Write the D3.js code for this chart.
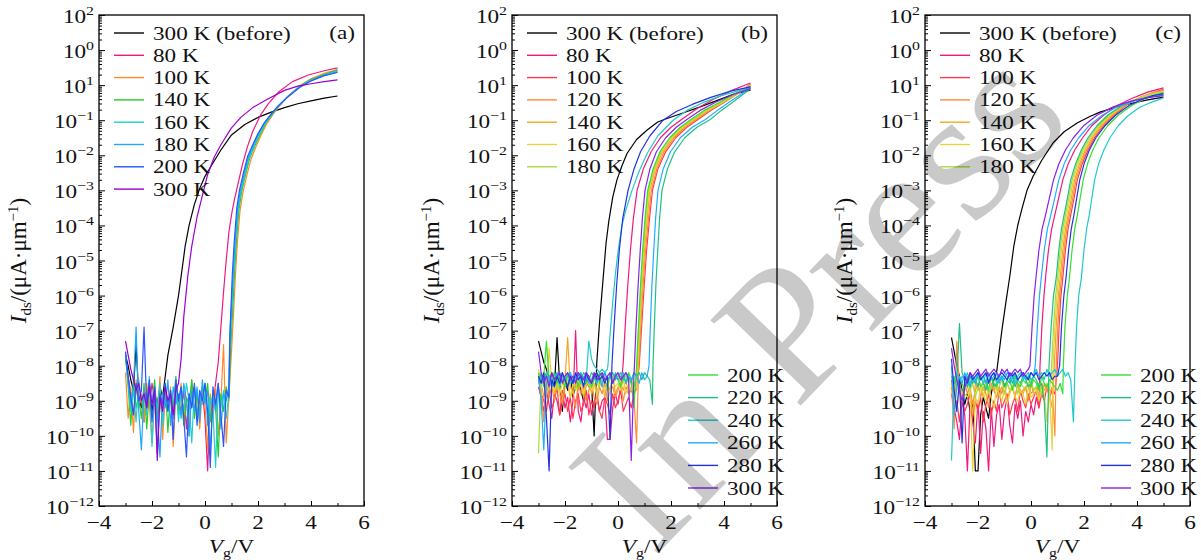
<!DOCTYPE html>
<html>
<head>
<meta charset="utf-8">
<script src="https://cdn.jsdelivr.net/npm/d3@7"></script>
<style>
  body { margin: 0; background: #fff; }
  svg text { font-family: "Liberation Serif", "Times New Roman", serif; }
</style>
</head>
<body>
<svg id="chart" width="1201" height="560"></svg>
<script>
// ---- data (current values stored as log10(I / μA·μm^-1)) ----
const tempsA = ["300 K (before)", "80 K", "100 K", "140 K", "160 K", "180 K", "200 K", "300 K"];
const tempsBC = ["300 K (before)", "80 K", "100 K", "120 K", "140 K", "160 K", "180 K",
  "200 K", "220 K", "240 K", "260 K", "280 K", "300 K"];
const panelLabels = ["(a)", "(b)", "(c)"];
const xTicks = [-4, -2, 0, 2, 4, 6];
const xMinor = [-3, -1, 1, 3, 5];
const xTickLabels = ["−4", "−2", "0", "2", "4", "6"];
const yTickExps = [2, 1, 0, -1, -2, -3, -4, -5, -6, -7, -8, -9, -10, -11, -12];
const yTickLabels = ["2", "0", "1", "−1", "−2", "−3", "−4", "−5", "−6", "−7", "−8", "−9", "−10", "−11", "−12"];

// Vg sweep of the off-state part starts at -3.0 V, 0.1 V per point
const vgStart = -3.0;
const vgStep = 0.1;

// panel (a): off-state noise, then the turn-on branch as [Vg, log10 I]
const noiseA = [
  [-7.7,-8.0,-8.4,-8.7,-7.4,-8.9,-9.2,-8.7,-9.0,-8.5, -9.3,-8.8,-9.1,-8.6,-8.9,-8.3],
  [-7.8,-8.3,-8.8,-9.4,-8.6,-9.1,-8.9,-9.6,-8.7,-9.2, -8.5,-9.0,-9.4,-8.8,-9.7,-8.6,-9.1,-8.9,-9.5,-8.4,
   -9.0,-9.3,-8.7,-9.8,-8.8,-9.2,-8.6,-9.4,-9.0,-8.7, -9.5,-11.0,-8.9,-9.3,-8.5],
  [-8.2,-9.5,-8.6,-9.9,-8.4,-9.2,-8.8,-9.6,-8.5,-9.1, -10.2,-8.7,-9.4,-8.3,-10.1,-8.9,-9.3,-8.6,-10.3,-8.8,
   -9.2,-8.5,-9.7,-8.9,-10.0,-8.4,-9.3,-8.7,-9.8,-8.6, -9.1,-10.4,-8.8,-9.5,-8.6,-10.0,-9.0,-7.4,-10.2,-8.9],
  [-7.7,-8.6,-9.7,-8.4,-9.2,-8.9,-9.5,-8.5,-9.8,-8.7, -9.1,-8.4,-9.6,-8.8,-9.3,-8.5,-9.9,-8.7,-9.2,-8.3,
   -9.4,-8.6,-9.7,-8.9,-9.1,-8.4,-9.5,-8.8,-9.3,-8.6, -9.0,-8.5,-9.6,-8.7,-9.2,-10.6,-8.8,-9.3,-8.6,-9.0],
  [-7.6,-8.5,-9.3,-8.7,-9.6,-8.4,-9.0,-8.8,-9.4,-8.3, -10.3,-8.9,-9.2,-8.5,-9.7,-8.6,-9.1,-8.8,-9.5,-8.4,
   -9.6,-8.7,-9.3,-8.5,-9.0,-10.2,-8.6,-9.4,-8.8,-9.1, -8.5,-9.7,-8.9,-9.3,-10.9,-8.6,-9.2,-8.7,-9.5,-8.8],
  [-7.7,-8.4,-9.1,-8.6,-6.9,-9.3,-10.4,-8.7,-9.2,-8.5, -9.0,-8.6,-9.4,-10.6,-8.8,-9.2,-8.4,-9.7,-8.6,-9.1,
   -8.8,-9.5,-8.5,-9.0,-10.0,-8.7,-9.3,-8.6,-9.6,-8.4, -9.1,-8.7,-10.5,-8.9,-9.3,-8.5,-9.8,-8.8,-9.0,-8.6],
  [-7.6,-8.3,-8.9,-9.4,-8.5,-9.0,-8.7,-6.9,-9.2,-8.4, -9.6,-8.6,-10.5,-8.8,-9.1,-8.5,-9.3,-8.7,-10.1,-8.4,
   -9.0,-8.6,-9.5,-10.6,-8.8,-9.2,-8.5,-9.7,-8.7,-9.0, -8.5,-9.3,-10.9,-8.6,-9.1,-8.5,-9.4,-10.3,-8.7,-8.9],
  [-7.3,-7.7,-8.1,-8.4,-8.7,-8.5,-9.0,-8.8,-9.2,-8.6, -9.1,-8.7,-10.7,-8.9,-9.3,-8.6,-9.0,-8.8,-9.4,-8.7, -8.5]
];
const riseA = [
  [[-1.4,-7.7],[-1.2,-6.9],[-1.0,-6.0],[-0.9,-5.45],[-0.75,-4.6],[-0.6,-4.0],[-0.4,-3.4],[-0.2,-2.95],[0.0,-2.6],[0.3,-2.22],[0.6,-1.85],[1.0,-1.42],[1.5,-1.12],[2.0,-0.92],[2.5,-0.77],[3.0,-0.64],[3.5,-0.53],[4.0,-0.45],[4.5,-0.37],[5.0,-0.31]],
  [[0.5,-7.9],[0.6,-6.9],[0.7,-5.9],[0.8,-5.0],[0.9,-4.2],[1.0,-3.7],[1.1,-3.3],[1.25,-2.8],[1.4,-2.3],[1.6,-1.76],[1.8,-1.32],[2.1,-0.85],[2.4,-0.52],[2.8,-0.18],[3.3,0.1],[3.9,0.29],[4.5,0.41],[5.0,0.49]],
  [[1.0,-7.6],[1.07,-6.6],[1.15,-5.4],[1.22,-4.5],[1.32,-3.6],[1.42,-3.1],[1.57,-2.6],[1.72,-2.15],[1.9,-1.8],[2.1,-1.45],[2.33,-1.1],[2.58,-0.82],[2.83,-0.58],[3.15,-0.3],[3.6,0.0],[4.0,0.18],[4.5,0.34],[5.0,0.45]],
  [[0.96,-7.6],[1.03,-6.6],[1.11,-5.4],[1.18,-4.5],[1.28,-3.55],[1.38,-3.05],[1.53,-2.55],[1.68,-2.1],[1.87,-1.75],[2.07,-1.42],[2.3,-1.08],[2.55,-0.82],[2.8,-0.58],[3.13,-0.32],[3.6,-0.02],[4.0,0.16],[4.5,0.31],[5.0,0.43]],
  [[0.93,-7.6],[1.0,-6.6],[1.08,-5.4],[1.15,-4.5],[1.25,-3.55],[1.35,-3.05],[1.5,-2.55],[1.65,-2.1],[1.84,-1.74],[2.04,-1.41],[2.28,-1.07],[2.53,-0.82],[2.78,-0.59],[3.12,-0.33],[3.6,-0.03],[4.0,0.14],[4.5,0.29],[5.0,0.40]],
  [[0.93,-7.2],[0.98,-6.6],[1.06,-5.4],[1.13,-4.5],[1.23,-3.52],[1.33,-3.02],[1.48,-2.52],[1.63,-2.07],[1.82,-1.72],[2.02,-1.39],[2.26,-1.06],[2.51,-0.82],[2.76,-0.6],[3.11,-0.34],[3.6,-0.04],[4.0,0.13],[4.5,0.28],[5.0,0.38]],
  [[0.95,-6.9],[1.03,-5.4],[1.1,-4.5],[1.2,-3.5],[1.3,-3.0],[1.45,-2.5],[1.6,-2.05],[1.8,-1.7],[2.0,-1.38],[2.25,-1.06],[2.5,-0.82],[2.75,-0.6],[3.1,-0.35],[3.6,-0.05],[4.0,0.12],[4.5,0.27],[5.0,0.36]],
  [[-0.9,-7.8],[-0.8,-6.6],[-0.65,-5.45],[-0.5,-4.6],[-0.3,-3.76],[-0.1,-3.15],[0.1,-2.55],[0.35,-2.05],[0.6,-1.7],[1.0,-1.22],[1.35,-0.92],[1.8,-0.64],[2.35,-0.4],[3.0,-0.15],[3.5,-0.03],[4.0,0.04],[4.5,0.1],[5.0,0.15]]
];

// panel (b)
const noiseB = [
  [-7.3,-7.6,-7.9,-8.1,-8.4,-8.2,-8.6,-7.2,-8.5,-9.3, -8.4,-8.7,-8.3,-8.9,-8.5,-8.2,-8.7,-9.0,-8.4,-8.6, -8.5,-10.0],
  [-8.6,-8.9,-9.3,-8.7,-9.1,-9.5,-8.8,-9.0,-9.4,-8.7, -9.2,-8.9,-9.6,-9.0,-7.0,-9.3,-9.6,-8.9,-9.2,-8.8,
   -9.4,-9.0,-8.8,-9.3,-9.0,-8.9,-10.1,-10.1,-9.2,-8.8, -9.1,-8.6],
  [-8.4,-8.8,-9.0,-9.3,-8.7,-9.2,-9.0,-8.6,-9.4,-9.1, -8.8,-9.3,-8.9,-9.5,-9.0,-8.8,-9.3,-9.1,-8.7,-9.4,
   -9.0,-9.2,-8.8,-9.3,-9.5,-8.9,-9.1,-9.4,-8.8,-9.2, -9.0,-8.7,-9.3,-9.1,-8.9,-9.2,-8.8,-8.6],
  [-8.3,-8.7,-9.6,-8.5,-8.9,-8.6,-9.0,-8.4,-8.8,-9.1, -8.6,-8.5,-8.9,-8.7,-9.2,-8.5,-8.8,-8.6,-9.0,-8.7,
   -8.5,-8.9,-9.1,-8.6,-8.8,-8.5,-9.0,-8.7,-8.6,-8.9, -8.7,-8.5,-9.0,-8.6,-8.8,-8.7,-8.9,-10.2],
  [-8.2,-8.5,-8.9,-8.4,-8.7,-8.3,-8.8,-8.5,-8.6,-8.9, -8.4,-7.2,-8.6,-8.8,-8.5,-8.7,-8.3,-8.9,-8.6,-8.4,
   -8.8,-8.5,-8.7,-8.6,-8.4,-8.9,-8.5,-8.7,-8.3,-8.8, -8.6,-8.5,-8.7,-8.4,-8.8,-8.6,-8.5,-8.7],
  [-8.1,-8.6,-8.3,-8.9,-7.5,-8.5,-8.7,-8.4,-8.8,-8.5, -8.6,-8.3,-8.9,-8.5,-8.7,-8.4,-8.6,-8.8,-8.5,-8.3,
   -8.7,-8.5,-8.9,-8.4,-8.6,-8.7,-8.5,-8.8,-8.4,-8.6, -8.5,-8.7,-8.4,-8.8,-8.6,-8.5,-8.7,-8.6],
  [-10.5,-8.4,-8.2,-8.6,-8.3,-8.5,-8.2,-8.7,-8.4,-8.3, -8.6,-8.4,-8.2,-8.5,-8.7,-8.3,-8.5,-8.4,-8.2,-8.6,
   -8.4,-8.3,-8.5,-8.6,-8.2,-8.4,-8.7,-8.3,-8.5,-8.4, -8.2,-8.6,-8.4,-8.3,-8.5,-8.4,-8.6,-8.3],
  [-8.2,-8.5,-8.3,-7.3,-8.4,-8.6,-8.2,-8.5,-8.3,-8.4, -8.6,-8.2,-8.4,-8.5,-8.3,-8.6,-8.2,-8.4,-8.5,-8.3,
   -8.6,-8.4,-8.2,-8.5,-8.3,-8.4,-8.6,-8.2,-8.5,-8.3, -8.4,-8.6,-8.3,-8.5,-8.2,-8.4,-9.2],
  [-8.5,-8.2,-8.4,-8.2,-8.3,-8.5,-8.2,-8.4,-8.3,-8.2, -8.4,-8.3,-8.2,-8.5,-8.3,-8.2,-8.4,-8.2,-8.3,-8.4,
   -8.2,-8.3,-8.5,-8.2,-8.3,-8.2,-8.4,-8.3,-8.2,-8.4, -8.3,-8.2,-8.4,-8.2,-8.3,-8.5,-8.2,-8.3,-8.2,-8.4,
   -8.2,-8.3,-8.4,-9.1],
  [-8.4,-8.3,-8.6,-8.2,-8.5,-8.3,-8.4,-8.2,-8.6,-8.3, -8.4,-8.2,-8.5,-8.3,-8.4,-8.2,-8.5,-8.3,-8.4,-7.3,
   -7.8,-8.0,-8.1,-8.2,-8.1,-8.2,-8.1],
  [-8.3,-9.0,-10.4,-8.5,-8.3,-8.6,-8.4,-8.2,-8.5,-8.3, -8.4,-8.6,-8.2,-8.5,-8.3,-8.4,-8.2,-8.6,-8.3,-8.5,
   -8.4,-8.2,-8.5,-8.3,-8.6,-8.2,-8.4,-8.3,-8.5,-8.2, -8.4,-8.3,-8.2,-8.5,-8.3,-8.4,-8.2,-8.3,-8.5,-8.2,
   -8.4,-8.3],
  [-8.3,-8.5,-8.2,-9.5,-11.0,-8.4,-8.6,-8.3,-8.5,-8.2, -8.4,-8.6,-8.3,-8.5,-8.2,-8.4,-8.3,-8.6,-8.2,-8.4,
   -8.5,-8.3,-8.2,-8.4,-8.3,-8.5,-8.3,-10.1],
  [-7.6,-8.2,-8.5,-8.3,-8.6,-8.2,-8.4,-8.3,-8.2,-8.5, -8.3,-8.2,-8.4,-8.3,-8.5,-8.2,-8.3,-8.4,-8.2,-8.3,
   -8.5,-8.2,-8.4,-8.3,-8.2,-8.4,-8.3,-8.2,-8.5,-8.3, -8.2,-8.4,-8.3,-8.2,-8.4,-10.7,-8.3]
];
const riseB = [
  [[-0.8,-7.9],[-0.7,-6.8],[-0.56,-5.5],[-0.45,-4.5],[-0.35,-3.9],[-0.2,-3.2],[-0.04,-2.7],[0.15,-2.3],[0.34,-1.95],[0.7,-1.55],[1.1,-1.28],[1.5,-1.05],[1.85,-0.95],[2.5,-0.78],[3.1,-0.62],[3.8,-0.42],[4.4,-0.25],[5.0,-0.14]],
  [[0.19,-8.0],[0.27,-6.9],[0.37,-5.7],[0.47,-4.7],[0.58,-3.8],[0.72,-3.0],[0.95,-2.4],[1.25,-1.9],[1.6,-1.5],[2.0,-1.2],[2.45,-0.95],[3.0,-0.66],[3.6,-0.4],[4.3,-0.15],[5.0,0.06]],
  [[0.8,-8.0],[0.89,-6.9],[0.99,-5.7],[1.08,-4.7],[1.19,-3.8],[1.3,-3.0],[1.5,-2.4],[1.8,-1.9],[2.18,-1.5],[2.6,-1.2],[3.02,-0.98],[3.5,-0.72],[4.05,-0.47],[4.55,-0.22],[5.0,0.03]],
  [[0.78,-8.0],[0.86,-6.9],[0.95,-5.7],[1.04,-4.7],[1.15,-3.8],[1.26,-3.0],[1.46,-2.4],[1.74,-1.9],[2.12,-1.5],[2.53,-1.2],[2.96,-0.98],[3.45,-0.72],[4.0,-0.48],[4.5,-0.24],[5.0,0.0]],
  [[0.76,-8.0],[0.83,-6.9],[0.91,-5.7],[1.0,-4.7],[1.1,-3.8],[1.2,-3.0],[1.4,-2.4],[1.68,-1.9],[2.06,-1.5],[2.47,-1.2],[2.9,-0.98],[3.4,-0.72],[3.95,-0.5],[4.5,-0.26],[5.0,-0.02]],
  [[0.74,-8.0],[0.81,-6.9],[0.89,-5.7],[0.97,-4.7],[1.07,-3.8],[1.17,-3.0],[1.37,-2.4],[1.64,-1.9],[2.02,-1.5],[2.43,-1.2],[2.85,-0.98],[3.35,-0.72],[3.9,-0.5],[4.45,-0.24],[5.0,0.0]],
  [[0.72,-8.0],[0.79,-6.9],[0.87,-5.7],[0.95,-4.7],[1.04,-3.8],[1.14,-3.0],[1.34,-2.4],[1.61,-1.9],[1.98,-1.5],[2.38,-1.2],[2.8,-0.98],[3.3,-0.72],[3.85,-0.5],[4.45,-0.25],[5.0,-0.02]],
  [[0.70,-8.0],[0.77,-6.9],[0.85,-5.7],[0.93,-4.7],[1.02,-3.8],[1.12,-3.0],[1.32,-2.4],[1.58,-1.9],[1.95,-1.5],[2.35,-1.2],[2.75,-0.98],[3.25,-0.72],[3.8,-0.5],[4.4,-0.25],[5.0,-0.03]],
  [[1.32,-8.0],[1.37,-6.9],[1.43,-5.7],[1.5,-4.7],[1.57,-3.8],[1.66,-3.0],[1.86,-2.4],[2.14,-1.9],[2.52,-1.5],[2.98,-1.2],[3.48,-0.98],[3.9,-0.72],[4.3,-0.5],[4.65,-0.3],[5.0,-0.1]],
  [[-0.38,-8.0],[-0.3,-7.1],[-0.2,-6.2],[-0.1,-5.4],[0.0,-4.75],[0.15,-4.0],[0.3,-3.55],[0.53,-3.0],[0.8,-2.45],[1.1,-1.95],[1.5,-1.45],[2.08,-1.0],[2.6,-0.72],[3.2,-0.5],[3.9,-0.3],[4.5,-0.17],[5.0,-0.08]],
  [[1.17,-8.0],[1.22,-6.9],[1.28,-5.7],[1.35,-4.7],[1.42,-3.8],[1.51,-3.0],[1.7,-2.4],[1.98,-1.9],[2.35,-1.5],[2.8,-1.2],[3.3,-0.98],[3.75,-0.72],[4.2,-0.48],[4.6,-0.28],[5.0,-0.07]],
  [[-0.23,-8.0],[-0.15,-6.9],[-0.05,-5.7],[0.05,-4.7],[0.18,-3.8],[0.38,-3.0],[0.6,-2.4],[0.85,-1.9],[1.2,-1.45],[1.7,-1.0],[2.2,-0.75],[2.8,-0.55],[3.5,-0.35],[4.2,-0.18],[5.0,-0.05]],
  [[0.62,-8.0],[0.68,-6.9],[0.76,-5.7],[0.84,-4.7],[0.92,-3.8],[1.02,-3.0],[1.2,-2.4],[1.45,-1.9],[1.8,-1.5],[2.2,-1.2],[2.6,-0.98],[3.1,-0.72],[3.7,-0.48],[4.3,-0.28],[5.0,-0.1]]
];

// panel (c)
const noiseC = [
  [-7.2,-7.6,-8.0,-8.3,-8.7,-9.1,-8.8,-9.3,-9.0,-11.0, -11.0,-9.4,-8.9,-9.2,-9.5,-8.8,-8.4],
  [-8.8,-9.2,-9.6,-10.1,-9.0,-9.4,-11.0,-9.1,-9.6,-10.2, -9.0,-10.5,-9.3,-9.8,-11.0,-9.2,-10.3,-9.4,-9.1,-10.1,
   -9.3,-8.9,-9.7,-10.2,-9.1,-9.5,-9.0,-10.0,-9.3,-9.6, -9.1,-9.4,-8.9,-9.2],
  [-8.4,-9.2,-9.0,-9.6,-8.9,-9.3,-9.1,-8.8,-9.5,-9.0, -9.3,-8.9,-9.6,-9.1,-8.8,-9.4,-9.0,-9.3,-8.7,-9.2,
   -9.0,-8.8,-9.4,-9.1,-8.9,-9.3,-8.7,-9.0,-9.2,-8.8, -9.1,-8.9,-8.7,-9.2,-8.8,-9.0,-8.6,-8.9,-8.7,-8.8],
  [-8.6,-9.8,-7.3,-8.7,-9.0,-8.5,-8.8,-8.6,-9.1,-8.7, -8.5,-8.9,-8.6,-8.8,-9.2,-8.5,-8.7,-8.9,-8.6,-8.8,
   -8.5,-9.0,-8.7,-8.6,-8.9,-8.5,-8.8,-8.7,-8.6,-9.0, -8.5,-8.8,-8.7,-8.6,-8.9,-8.5,-8.7,-8.8,-8.6,-10.0],
  [-8.5,-8.8,-8.4,-8.7,-8.9,-8.5,-8.6,-8.8,-9.4,-8.5, -8.7,-8.6,-8.9,-8.5,-8.8,-8.6,-8.7,-8.5,-8.9,-8.6,
   -8.8,-8.5,-8.7,-8.6,-8.9,-8.5,-8.7,-8.8,-8.6,-8.5, -8.8,-8.7,-8.6,-8.9,-8.5,-8.7,-8.6,-8.8,-9.2],
  [-8.7,-8.9,-9.3,-8.6,-9.0,-8.8,-8.9,-8.7,-11.0,-8.9, -9.1,-8.6,-8.8,-9.0,-8.7,-8.9,-9.2,-8.6,-8.8,-9.0,
   -8.7,-9.1,-8.8,-8.6,-8.9,-9.0,-8.7,-8.8,-9.1,-8.6, -8.9,-8.8,-8.7,-9.0,-8.6,-8.8,-9.6,-8.7,-10.4],
  [-8.6,-8.4,-8.7,-8.5,-8.8,-8.6,-8.4,-8.7,-8.5,-8.9, -8.6,-8.5,-8.7,-8.4,-8.8,-8.6,-8.5,-8.7,-8.6,-8.4,
   -8.8,-8.5,-8.7,-8.6,-8.4,-8.8,-8.5,-8.6,-8.7,-8.5, -8.4,-8.7,-8.6,-8.5,-8.8,-8.6,-8.5,-8.7],
  [-8.5,-8.3,-8.6,-8.4,-8.5,-8.7,-8.3,-8.6,-8.4,-8.5, -8.3,-8.6,-8.5,-8.4,-8.7,-8.3,-8.5,-8.6,-8.4,-8.3,
   -8.6,-8.5,-8.4,-8.7,-8.3,-8.5,-8.6,-8.4,-8.5,-8.3, -8.6,-8.4,-8.5,-8.7,-8.3,-8.5,-8.6,-8.4,-8.5,-8.6,
   -8.7,-8.5,-8.8],
  [-8.3,-8.5,-8.4,-6.8,-8.2,-8.4,-8.6,-8.3,-8.5,-8.4, -8.6,-8.3,-8.5,-8.7,-8.4,-8.3,-8.6,-8.5,-8.4,-8.3,
   -8.6,-8.4,-8.5,-8.3,-8.6,-8.4,-8.5,-8.3,-8.4,-8.6, -8.5,-8.3,-8.4,-8.6,-8.5,-9.0,-10.6],
  [-10.7,-8.4,-8.2,-8.5,-8.3,-8.4,-8.2,-8.5,-8.3,-8.4, -8.2,-8.3,-8.5,-8.2,-8.4,-8.3,-8.2,-8.5,-8.3,-8.4,
   -8.2,-8.3,-8.4,-8.2,-8.5,-8.3,-8.2,-8.4,-8.3,-8.2, -8.4,-8.3,-8.1,-8.3,-8.2,-8.4,-8.1,-8.3,-8.2,-8.1,
   -8.3,-8.2,-8.1,-8.3,-8.2,-8.4,-9.6],
  [-8.0,-9.4,-8.6,-8.3,-8.5,-8.2,-8.4,-8.6,-8.3,-8.5, -8.2,-8.4,-8.3,-8.5,-8.2,-8.4,-8.3,-8.2,-8.5,-8.3,
   -8.4,-8.2,-8.3,-8.5,-8.2,-8.4,-8.3,-8.2,-8.4,-8.3, -8.2,-8.3],
  [-7.8,-8.7,-9.3,-8.4,-10.2,-8.3,-8.5,-8.2,-8.4,-8.3, -8.2,-8.4,-8.3,-8.2,-8.5,-8.3,-8.2,-8.4,-8.3,-8.2,
   -8.3,-8.4,-8.2,-8.3,-8.2,-8.4,-8.3,-8.2,-8.3,-8.4, -8.2,-8.3,-8.2,-8.4,-8.3,-8.2,-8.3,-8.2,-8.4,-8.3, -8.3],
  [-7.5,-8.0,-8.4,-8.7,-9.0,-8.6,-8.4,-8.2,-8.3,-8.2, -8.1,-8.3,-8.2,-8.1,-8.3,-8.2,-8.1,-8.2,-8.3,-8.1,
   -8.2,-8.1,-8.3,-8.2,-8.1,-8.2,-8.1,-8.3,-8.2,-8.1]
];
const riseC = [
  [[-1.3,-8.2],[-1.1,-7.0],[-0.95,-6.2],[-0.8,-5.45],[-0.65,-4.6],[-0.5,-4.0],[-0.35,-3.55],[-0.15,-3.0],[0.08,-2.6],[0.4,-2.15],[0.83,-1.65],[1.25,-1.33],[1.74,-1.08],[2.2,-0.9],[2.6,-0.77],[3.2,-0.63],[3.85,-0.51],[4.4,-0.42],[5.0,-0.34]],
  [[0.34,-8.0],[0.41,-6.9],[0.49,-6.0],[0.56,-5.4],[0.66,-4.7],[0.78,-4.1],[0.9,-3.7],[1.05,-3.2],[1.2,-2.7],[1.4,-2.25],[1.65,-1.85],[1.95,-1.5],[2.3,-1.15],[2.75,-0.85],[3.25,-0.58],[3.8,-0.38],[4.4,-0.2],[5.0,-0.08]],
  [[1.0,-8.0],[1.06,-6.9],[1.13,-6.0],[1.2,-5.5],[1.3,-4.7],[1.4,-4.1],[1.5,-3.7],[1.63,-3.2],[1.75,-2.7],[1.93,-2.25],[2.15,-1.85],[2.4,-1.5],[2.75,-1.15],[3.15,-0.85],[3.65,-0.54],[4.15,-0.34],[4.6,-0.21],[5.0,-0.12]],
  [[0.95,-8.0],[1.01,-6.9],[1.08,-6.0],[1.15,-5.5],[1.25,-4.7],[1.35,-4.1],[1.45,-3.7],[1.58,-3.2],[1.7,-2.7],[1.88,-2.25],[2.1,-1.85],[2.35,-1.5],[2.7,-1.15],[3.1,-0.85],[3.6,-0.55],[4.1,-0.36],[4.55,-0.23],[5.0,-0.15]],
  [[0.88,-8.0],[0.95,-6.9],[1.03,-6.0],[1.1,-5.5],[1.2,-4.7],[1.3,-4.1],[1.4,-3.7],[1.53,-3.2],[1.65,-2.7],[1.83,-2.25],[2.05,-1.85],[2.3,-1.5],[2.65,-1.15],[3.05,-0.85],[3.55,-0.56],[4.05,-0.37],[4.5,-0.25],[5.0,-0.17]],
  [[0.83,-8.0],[0.9,-6.9],[0.98,-6.0],[1.05,-5.5],[1.15,-4.7],[1.25,-4.1],[1.35,-3.7],[1.48,-3.2],[1.6,-2.7],[1.78,-2.25],[2.0,-1.85],[2.25,-1.5],[2.6,-1.15],[3.0,-0.85],[3.5,-0.57],[4.0,-0.38],[4.5,-0.26],[5.0,-0.18]],
  [[0.78,-8.0],[0.85,-6.9],[0.93,-6.0],[1.0,-5.5],[1.1,-4.7],[1.2,-4.1],[1.3,-3.7],[1.43,-3.2],[1.55,-2.7],[1.73,-2.25],[1.95,-1.85],[2.2,-1.5],[2.55,-1.15],[2.95,-0.85],[3.45,-0.58],[4.0,-0.4],[4.5,-0.28],[5.0,-0.2]],
  [[1.22,-8.0],[1.28,-6.9],[1.37,-6.0],[1.45,-5.5],[1.55,-4.7],[1.65,-4.1],[1.75,-3.7],[1.86,-3.2],[1.97,-2.7],[2.13,-2.25],[2.33,-1.85],[2.57,-1.5],[2.9,-1.15],[3.3,-0.85],[3.8,-0.58],[4.25,-0.4],[4.65,-0.29],[5.0,-0.22]],
  [[0.68,-8.0],[0.76,-6.9],[0.85,-6.0],[0.95,-5.5],[1.05,-4.7],[1.15,-4.1],[1.25,-3.7],[1.38,-3.2],[1.5,-2.7],[1.68,-2.25],[1.9,-1.85],[2.15,-1.5],[2.5,-1.15],[2.9,-0.85],[3.4,-0.6],[3.95,-0.43],[4.5,-0.32],[5.0,-0.25]],
  [[1.66,-8.0],[1.72,-6.9],[1.8,-6.0],[1.9,-5.5],[2.0,-4.7],[2.1,-4.1],[2.2,-3.7],[2.3,-3.2],[2.4,-2.7],[2.55,-2.25],[2.75,-1.85],[2.98,-1.5],[3.3,-1.15],[3.65,-0.88],[4.1,-0.63],[4.5,-0.5],[4.8,-0.42],[5.0,-0.36]],
  [[0.16,-8.0],[0.24,-6.9],[0.32,-6.0],[0.4,-5.4],[0.5,-4.7],[0.62,-4.1],[0.75,-3.7],[0.9,-3.2],[1.05,-2.7],[1.25,-2.25],[1.5,-1.85],[1.8,-1.5],[2.2,-1.15],[2.7,-0.85],[3.3,-0.6],[3.9,-0.44],[4.5,-0.34],[5.0,-0.28]],
  [[1.08,-8.0],[1.15,-6.9],[1.24,-6.0],[1.32,-5.5],[1.42,-4.7],[1.52,-4.1],[1.62,-3.7],[1.73,-3.2],[1.84,-2.7],[2.0,-2.25],[2.2,-1.85],[2.45,-1.5],[2.8,-1.15],[3.2,-0.85],[3.7,-0.58],[4.2,-0.4],[4.6,-0.3],[5.0,-0.24]],
  [[-0.04,-8.0],[0.04,-6.9],[0.12,-6.0],[0.2,-5.4],[0.3,-4.7],[0.42,-4.1],[0.55,-3.7],[0.7,-3.2],[0.85,-2.7],[1.05,-2.25],[1.3,-1.85],[1.6,-1.5],[2.0,-1.15],[2.5,-0.85],[3.1,-0.62],[3.8,-0.45],[4.4,-0.36],[5.0,-0.3]]
];

// ---- styles ----
const colorsA = ["#000000", "#f0197d", "#ff8a2a", "#26cc26", "#1fd0cf", "#1aa8ff", "#2a55ff", "#9a00cc"];
const colorsBC = ["#000000", "#f0197d", "#ff3a4e", "#ff8a3a", "#f7a623", "#e8d33a", "#a6de3c",
  "#33e033", "#1fc080", "#1fcaca", "#22acff", "#2233dd", "#8a22e6"];

const svg = d3.select("#chart");
const SX = 1.22; // the original figure is stretched horizontally
const FS = 19;

const panels = [
  { left: 99, temps: tempsA, colors: colorsA, noise: noiseA, rise: riseA, split: 8, titleX: 26 },
  { left: 512, temps: tempsBC, colors: colorsBC, noise: noiseB, rise: riseB, split: 7, titleX: 439 },
  { left: 925, temps: tempsBC, colors: colorsBC, noise: noiseC, rise: riseC, split: 7, titleX: 852 }
];
const plotTop = 15, plotBottom = 506, plotWidth = 265;

function stretchedText(g, x, y, anchor, rotate, size, sx) {
  return g
    .append("g")
    .attr("transform", `translate(${x},${y}) scale(${sx || SX},1)` + (rotate ? ` rotate(${rotate})` : ""))
    .append("text")
    .attr("text-anchor", anchor)
    .attr("font-size", size || FS)
    .attr("fill", "#111");
}

const y = d3.scaleLog().domain([1e-12, 1e2]).range([plotBottom, plotTop]);
const yMinor = [];
for (let e = -12; e < 2; e++) for (let m = 2; m <= 9; m++) yMinor.push(m * Math.pow(10, e));

panels.forEach((p, pi) => {
  const x = d3.scaleLinear().domain([-4, 6]).range([p.left, p.left + plotWidth]);
  const g = svg.append("g").attr("class", "panel");

  // curves
  const line = d3
    .line()
    .x((d) => x(d[0]))
    .y((d) => y(Math.pow(10, d[1])));
  const curveLayer = g.append("g").attr("class", "curve-layer");
  p.temps.forEach((t, i) => {
    const riseStart = p.rise[i][0][0];
    const pts = p.noise[i]
      .map((v, k) => [vgStart + k * vgStep, v])
      .filter((d) => d[0] < riseStart - 0.001)
      .concat(p.rise[i]);
    curveLayer
      .append("path")
      .datum(pts)
      .attr("d", line)
      .attr("fill", "none")
      .attr("stroke", p.colors[i])
      .attr("stroke-width", 1.2)
      .attr("stroke-linejoin", "round");
  });

  // axes (ticks inside)
  g.append("g")
    .attr("transform", `translate(0,${plotBottom})`)
    .call(d3.axisBottom(x).tickValues(xTicks).tickSize(-5).tickSizeOuter(0).tickFormat(""))
    .call((a) => a.select(".domain").remove());
  g.append("g")
    .attr("transform", `translate(0,${plotBottom})`)
    .call(d3.axisBottom(x).tickValues(xMinor).tickSize(-3).tickSizeOuter(0).tickFormat(""))
    .call((a) => a.select(".domain").remove());
  g.append("g")
    .attr("transform", `translate(${p.left},0)`)
    .call(d3.axisLeft(y).tickValues(yTickExps.map((e) => Math.pow(10, e))).tickSize(-6).tickSizeOuter(0).tickFormat(""))
    .call((a) => a.select(".domain").remove());
  g.append("g")
    .attr("transform", `translate(${p.left},0)`)
    .call(d3.axisLeft(y).tickValues(yMinor).tickSize(-3).tickSizeOuter(0).tickFormat(""))
    .call((a) => a.select(".domain").remove());
  g.selectAll(".tick line").attr("stroke", "#000").attr("stroke-width", 1);

  g.append("rect")
    .attr("x", p.left)
    .attr("y", plotTop)
    .attr("width", plotWidth)
    .attr("height", plotBottom - plotTop)
    .attr("fill", "none")
    .attr("stroke", "#000")
    .attr("stroke-width", 1.3);

  // tick labels
  xTicks.forEach((v, i) => {
    stretchedText(g, x(v), 529, "middle").text(xTickLabels[i]);
  });
  yTickExps.forEach((e, i) => {
    const t = stretchedText(g, p.left - 5, y(Math.pow(10, e)) + 8, "end");
    t.append("tspan").text("10");
    t.append("tspan").attr("dy", -8).attr("font-size", 13).text(yTickLabels[i]);
  });

  // axis titles
  const xt = stretchedText(g, p.left + plotWidth / 2, 553, "middle");
  xt.append("tspan").attr("font-style", "italic").text("V");
  xt.append("tspan").attr("dy", 4).attr("font-size", 13).text("g");
  xt.append("tspan").attr("dy", -4).text("/V");

  const yt = stretchedText(g, p.titleX, (plotTop + plotBottom) / 2, "middle", -90, 23, 1);
  yt.append("tspan").attr("font-style", "italic").text("I");
  yt.append("tspan").attr("dy", 5).attr("font-size", 15).text("ds");
  yt.append("tspan").attr("dy", -5).text("/(μA·μm");
  yt.append("tspan").attr("dy", -8).attr("font-size", 15).text("−1");
  yt.append("tspan").attr("dy", 8).text(")");

  // panel tag
  stretchedText(g, p.left + plotWidth - 9, 39, "end").text(panelLabels[pi]);

  // legends
  p.temps.forEach((t, i) => {
    let lx, ly;
    if (i < p.split) {
      lx = p.left + 15;
      ly = 33 + i * 22.3;
    } else {
      lx = p.left + 176;
      ly = 375 + (i - p.split) * 22.6;
    }
    g.append("line")
      .attr("x1", lx)
      .attr("x2", lx + 30)
      .attr("y1", ly)
      .attr("y2", ly)
      .attr("stroke", p.colors[i])
      .attr("stroke-width", 1.4);
    stretchedText(g, lx + 39, ly + 6.5, "start").text(t);
  });
});

// "In Press" watermark
svg.append("text")
  .attr("transform", "translate(816,294) rotate(-46)")
  .attr("text-anchor", "middle")
  .attr("dy", "0.35em")
  .attr("font-size", 190)
  .attr("fill", "#000")
  .attr("fill-opacity", 0.21)
  .text("In Press");
</script>
</body>
</html>
